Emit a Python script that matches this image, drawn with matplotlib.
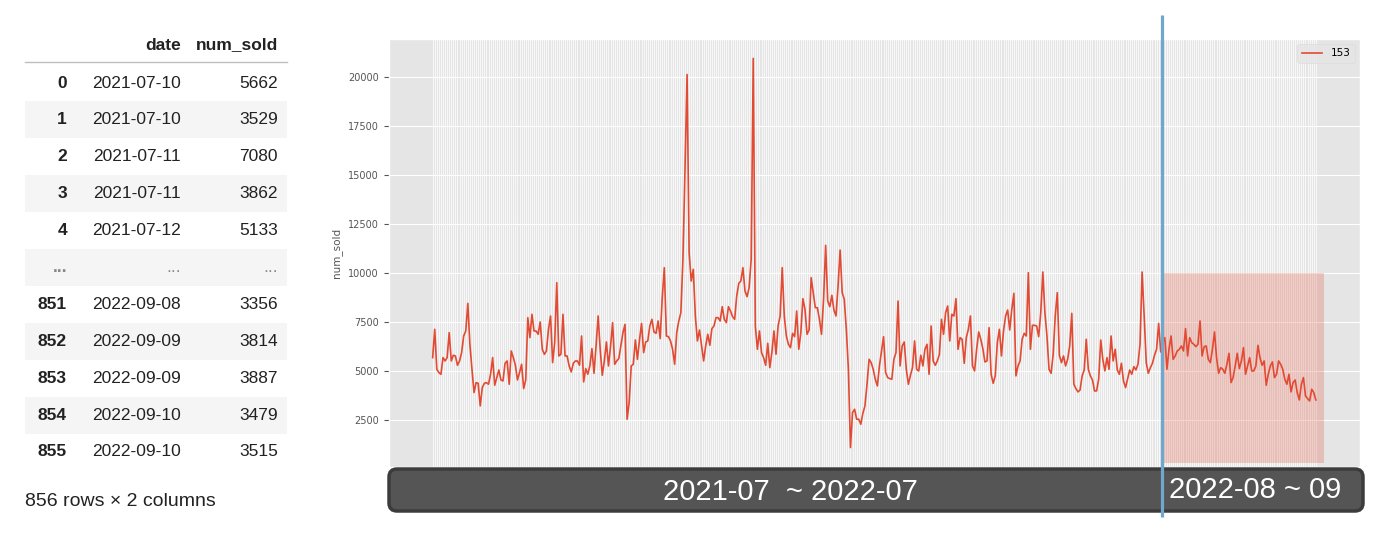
import numpy as np
import pandas as pd
import matplotlib
matplotlib.use("Agg")
import matplotlib.pyplot as plt
from matplotlib.patches import FancyBboxPatch, Rectangle

# table preview (left)
row_index = ["0", "1", "2", "3", "4", "...", "851", "852", "853", "854", "855"]
row_dates = ["2021-07-10", "2021-07-10", "2021-07-11", "2021-07-11", "2021-07-12", "...",
             "2022-09-08", "2022-09-09", "2022-09-09", "2022-09-10", "2022-09-10"]
row_sold = ["5662", "3529", "7080", "3862", "5133", "...",
            "3356", "3814", "3887", "3479", "3515"]

# daily series
num_sold = [
    5680, 7125, 5085, 4915, 4830, 5680, 5510, 5680, 6955, 5510,
    5800, 5765, 5290, 5510, 5935, 6785, 7040, 8450, 6360, 5085,
    3895, 4405, 4370, 3215, 4150, 4370, 4405, 4320, 4830, 5680,
    4270, 4660, 5050, 4540, 4490, 5390, 5510, 4320, 6020, 5680,
    5290, 4540, 4915, 5340, 4100, 4540, 7720, 6700, 7890, 7040,
    7040, 6870, 7500, 6105, 5850, 6020, 7125, 7805, 5425, 6445,
    9505, 5765, 5850, 7890, 5765, 5765, 5255, 4950, 5390, 5510,
    5510, 5290, 6785, 4440, 5120, 4830, 5255, 6140, 4880, 6275,
    7805, 6105, 4780, 5510, 6480, 5255, 6240, 7465, 5340, 5510,
    5630, 6275, 6955, 7380, 2535, 3385, 5255, 5340, 6580, 5595,
    6580, 7430, 5935, 6480, 6530, 7295, 7635, 6990, 6920, 7550,
    6650, 8740, 10270, 6785, 6750, 6530, 6105, 5340, 6955, 7550,
    7975, 10695, 15285, 20130, 11035, 9590, 10185, 7805, 6530, 7090,
    6310, 5510, 6275, 6870, 6310, 7160, 7295, 7720, 7720, 7550,
    8280, 7635,
    7465, 8280, 8060, 7770, 7635, 8825, 9470, 9590, 10270, 9080,
    8790, 9250, 10695, 20950, 7295, 6105, 7040, 5935, 5680, 5290,
    6410, 5170, 5935, 7040, 5850, 7295, 7805, 10270, 7805, 6785,
    6360, 6190, 6920, 6750, 8060, 6105, 6955, 8690, 8145, 6870,
    7090, 9760, 8995, 8230, 8230, 7635, 6870, 8655, 11410, 8570,
    8280, 8860, 8110, 7805, 9335, 11170, 8995, 8655, 7125, 5085,
    1090, 2875, 3045, 2535, 2535, 2280, 2840, 3215, 4320, 5595,
    5425, 5085, 4575,
    4235, 5255, 6020, 6750, 4915, 4660, 4610, 4575, 5595, 5935,
    8570, 5255, 6275, 6480, 5085, 4320, 4780, 5170, 6530, 5085,
    5000, 5800, 5255, 6105, 6360, 4830, 7295, 5510, 5290, 5510,
    5850, 7635, 6870, 7975, 8315, 6530, 7890, 7805, 8690, 6105,
    6700, 6615, 5390, 6700, 7125, 7805, 5255, 5000, 6105, 6990,
    6615, 6140, 5460, 5510, 7210, 4830, 4370, 4745, 6445, 7125,
    5765, 7040, 7805, 8110, 7090, 8145, 8960, 4745, 5255, 5510,
    6615, 6920, 6785, 10015, 6105, 7330, 7330, 7295, 6750, 7975,
    10050, 7975, 6785, 5085, 4880, 5850, 7805, 8995, 5800, 5425,
    5765, 5255, 5595, 6275, 7940, 4320, 4100, 3930, 4030, 4745,
    5050, 6615, 5085, 4745, 4540, 3980, 3980, 4575, 6580, 5595,
    5000, 5680, 5085, 6785, 5510, 6105, 5050, 4830, 5390, 4490,
    4150, 4610, 5050, 4830, 5220, 5050, 5340, 6360, 10050, 7805,
    5425, 4880, 5170, 5390, 5800, 6105, 7430, 5970,
    6400, 6700,
    5085, 6105, 6785, 5595, 5765, 6020, 6105, 6275, 6020, 7160,
    5765, 6700, 6445, 6360, 6240, 6360, 7550, 5765, 6240, 6275,
    5595, 5425, 6105, 6990, 5680, 4880, 5170, 5085, 4880, 5340,
    5900, 4405, 4660, 5255, 5900, 5120, 5510, 6190, 4830, 5255,
    5680, 5000, 5000, 5255, 6310, 5680, 5290, 5510, 4270, 4830,
    5255, 5460, 4660, 4830, 5510, 5340, 5085, 4575, 4320, 4830,
    3930, 4405, 4540, 3895, 3520, 4320, 4660, 3725, 3590, 3470,
    4065, 3895, 3520,
]
dates = pd.date_range("2021-07-10", periods=len(num_sold)).strftime("%Y-%m-%d")

split_idx = 353        # where the blue divider sits
shade_top = 10000

W, H = 1394, 538
plt.style.use("ggplot")
fig = plt.figure(figsize=(W / 100, H / 100), dpi=100)

# main chart
ax = fig.add_axes([388.5 / W, 1 - 467 / H, 971.5 / W, 428 / H])
x = np.arange(len(num_sold))
ax.plot(x, num_sold, color="#E24A33", lw=1.2, label="153", zorder=3)
ax.set_xticks(x)
ax.set_xticklabels([])
ax.tick_params(axis="x", length=0)
ax.grid(axis="x", lw=0.5)
ax.set_yticks([2500, 5000, 7500, 10000, 12500, 15000, 17500, 20000])
ax.tick_params(axis="y", labelsize=7)
ax.set_ylabel("num_sold", fontsize=7.5)
ax.legend(loc="upper right", fontsize=7.5, facecolor="#E5E5E5", edgecolor="#DADADA")
y0 = ax.get_ylim()[0]
ax.add_patch(Rectangle((split_idx - 0.3, y0 + 200), len(num_sold) + 3.3 - split_idx,
                       shade_top - y0 - 200, facecolor="#E24A33", alpha=0.24,
                       edgecolor="none", zorder=2))

# overlay in pixel coords
ov = fig.add_axes([0, 0, 1, 1], zorder=5)
ov.set_xlim(0, W)
ov.set_ylim(H, 0)
ov.axis("off")
ov.patch.set_alpha(0)

# table
font = "Liberation Sans"
row_y = [83 + 36.9 * i for i in range(len(row_index))]
for i, yc in enumerate(row_y):
    if i % 2 == 1:
        ov.add_patch(Rectangle((25, yc - 18.5), 262, 37, facecolor="#F5F5F5", edgecolor="none"))
ov.plot([25, 287], [62, 62], color="#BDBDBD", lw=1)
ov.text(181, 45, "date", ha="right", va="center", fontsize=12.5, fontweight="bold",
        family=font, color="#222222")
ov.text(278, 45, "num_sold", ha="right", va="center", fontsize=12.5, fontweight="bold",
        family=font, color="#222222")
for yc, ix, d, s in zip(row_y, row_index, row_dates, row_sold):
    c = "#888888" if ix == "..." else "#222222"
    ov.text(67, yc, ix, ha="right", va="center", fontsize=12.5, fontweight="bold",
            family=font, color=c)
    ov.text(181, yc, d, ha="right", va="center", fontsize=12.5, family=font, color=c)
    ov.text(278, yc, s, ha="right", va="center", fontsize=12.5, family=font, color=c)
ov.text(25, 501, "856 rows \u00d7 2 columns", ha="left", va="center", fontsize=14,
        family=font, color="#222222")

# dark period banner
ov.add_patch(FancyBboxPatch((389, 469), 974, 42, boxstyle="round,pad=0,rounding_size=8",
                            facecolor="#555555", edgecolor="#3C3C3C", lw=2.5))
ov.text(790, 492, "2021-07  ~ 2022-07", ha="center", va="center", fontsize=21,
        family=font, color="white")
ov.text(1255, 490, "2022-08 ~ 09", ha="center", va="center", fontsize=21,
        family=font, color="white")

# blue divider
ov.plot([1162, 1162], [15, 517], color="#6FA8CE", lw=2.3, solid_capstyle="butt")

fig.savefig("out.png", dpi=100)
